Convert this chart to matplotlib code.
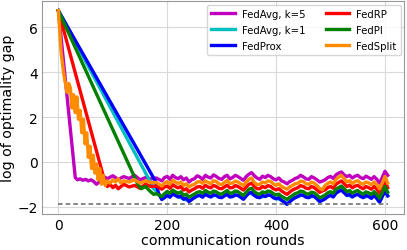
import matplotlib
matplotlib.use("Agg")
import matplotlib.pyplot as plt

# communication rounds of the noisy tail (every 5 rounds), coarse grid for the hidden cyan curve
tail_rounds = list(range(190, 606, 5))
tail_rounds_coarse = list(range(190, 601, 10)) + [605]

# FedAvg, k=5
m_head_x = [0, 31, 35, 40, 45, 50, 55, 60, 65, 70, 75, 80, 85, 90, 100, 110, 120, 130, 140, 150, 160, 170, 180]
m_head_y = [6.75, -0.7, -0.8, -0.76, -0.82, -0.78, -0.85, -0.8, -0.88, -1.0, -0.9, -0.72, -0.68, -0.75,
            -0.62, -0.78, -0.66, -0.74, -0.6, -0.8, -0.7, -0.76, -0.72]
m_tail = [-0.85, -0.7, -0.65, -0.78, -0.6, -0.7, -0.75, -0.66, -0.8, -0.72,
          -0.9, -0.8, -0.75, -0.62, -0.68, -0.78, -0.6, -0.68, -0.72, -0.58,
          -0.65, -0.74, -0.78, -0.66, -0.6, -0.76, -0.7, -0.6, -0.66, -0.74,
          -0.82, -0.66, -0.55, -0.48, -0.62, -0.72, -0.78, -0.64, -0.7, -0.6,
          -0.66, -0.76, -0.8, -0.72, -0.85, -0.9, -0.98, -0.88, -0.82, -0.74,
          -0.7, -0.6, -0.67, -0.76, -0.78, -0.66, -0.72, -0.8, -0.9, -0.86,
          -0.8, -0.7, -0.65, -0.74, -0.58, -0.5, -0.45, -0.58, -0.66, -0.6,
          -0.72, -0.64, -0.6, -0.7, -0.75, -0.64, -0.7, -0.78, -0.66, -0.78,
          -0.95, -0.7, -0.42, -0.6]

# FedAvg, k=1 (its tail sits under FedProx)
c_head_x = [0, 168, 175, 182]
c_head_y = [6.75, -0.85, -1.2, -1.35]
c_tail = [-1.65, -1.48, -1.41, -1.55, -1.65, -1.75, -1.58, -1.48, -1.43, -1.55, -1.48, -1.58, -1.43, -1.53,
          -1.48, -1.65, -1.38, -1.48, -1.58, -1.53, -1.48, -1.63, -1.7, -1.88, -1.66, -1.53, -1.48, -1.58,
          -1.53, -1.75, -1.63, -1.48, -1.38, -1.24, -1.48, -1.55, -1.43, -1.58, -1.53, -1.48, -1.78, -1.28, -1.5]

# FedProx
b_head_x = [0, 178, 184]
b_head_y = [6.75, -0.85, -1.4]
b_tail = [-1.68, -1.6, -1.5, -1.58, -1.43, -1.5, -1.57, -1.52, -1.67, -1.62,
          -1.77, -1.68, -1.6, -1.52, -1.5, -1.58, -1.45, -1.52, -1.57, -1.47,
          -1.5, -1.58, -1.6, -1.52, -1.45, -1.57, -1.55, -1.47, -1.5, -1.58,
          -1.67, -1.52, -1.4, -1.36, -1.5, -1.58, -1.6, -1.5, -1.55, -1.47,
          -1.5, -1.6, -1.65, -1.6, -1.72, -1.8, -1.9, -1.78, -1.68, -1.6,
          -1.55, -1.47, -1.5, -1.58, -1.6, -1.5, -1.55, -1.65, -1.77, -1.72,
          -1.65, -1.55, -1.5, -1.57, -1.4, -1.32, -1.26, -1.38, -1.5, -1.45,
          -1.57, -1.49, -1.45, -1.54, -1.6, -1.5, -1.55, -1.63, -1.5, -1.63,
          -1.8, -1.55, -1.3, -1.52]

# FedRP
r_head_x = [0, 86, 90, 95, 100, 105, 110, 115, 120, 130, 140, 150, 160, 170, 180]
r_head_y = [6.75, -0.95, -1.1, -1.0, -1.15, -1.05, -1.2, -1.1, -1.0, -1.12, -1.05, -1.18, -1.0, -1.1, -1.08]
r_tail = [-1.22, -1.12, -1.08, -1.18, -1.02, -1.1, -1.16, -1.1, -1.26, -1.2,
          -1.34, -1.26, -1.2, -1.12, -1.1, -1.18, -1.05, -1.12, -1.16, -1.05,
          -1.1, -1.18, -1.2, -1.12, -1.04, -1.16, -1.15, -1.06, -1.1, -1.18,
          -1.26, -1.12, -1.0, -0.95, -1.1, -1.2, -1.2, -1.1, -1.15, -1.06,
          -1.1, -1.2, -1.25, -1.2, -1.3, -1.38, -1.45, -1.35, -1.26, -1.2,
          -1.15, -1.06, -1.1, -1.18, -1.2, -1.1, -1.15, -1.25, -1.36, -1.3,
          -1.25, -1.15, -1.1, -1.18, -1.0, -0.92, -0.85, -0.98, -1.1, -1.04,
          -1.16, -1.08, -1.05, -1.14, -1.2, -1.1, -1.15, -1.22, -1.1, -1.22,
          -1.4, -1.15, -0.88, -1.15]

# FedPI
g_head_x = [0, 145, 152, 160, 168, 175, 180]
g_head_y = [6.75, -0.95, -1.2, -1.1, -1.3, -1.45, -1.42]
g_tail = [-1.55, -1.42, -1.32, -1.4, -1.26, -1.34, -1.4, -1.34, -1.5, -1.44,
          -1.58, -1.5, -1.44, -1.36, -1.33, -1.4, -1.28, -1.35, -1.4, -1.3,
          -1.34, -1.42, -1.44, -1.36, -1.28, -1.4, -1.38, -1.3, -1.33, -1.42,
          -1.5, -1.36, -1.22, -1.18, -1.33, -1.42, -1.44, -1.34, -1.38, -1.3,
          -1.33, -1.42, -1.48, -1.44, -1.54, -1.6, -1.68, -1.58, -1.5, -1.42,
          -1.38, -1.3, -1.33, -1.42, -1.44, -1.35, -1.38, -1.48, -1.6, -1.55,
          -1.48, -1.38, -1.33, -1.4, -1.22, -1.15, -1.08, -1.2, -1.33, -1.28,
          -1.4, -1.32, -1.28, -1.37, -1.44, -1.34, -1.38, -1.46, -1.33, -1.46,
          -1.62, -1.38, -1.1, -1.35]

# FedSplit
o_head_x = [0, 5, 10, 13, 16, 19, 22, 25, 28, 31, 34, 37, 40, 43, 46, 49, 52, 55, 58, 61,
            64, 67, 70, 73, 76, 79, 82, 86, 90, 95, 100, 105, 110, 115, 120, 130, 140, 150, 160, 170, 180]
o_head_y = [6.75, 4.9, 3.9, 3.5, 3.1, 3.5, 3.3, 2.4, 3.0, 2.2, 2.9, 1.9, 2.3, 1.3, 1.9, 0.8, 1.3, 0.2, 0.7, -0.3,
            0.3, -0.5, -0.1, -0.8, -0.3, -1.0, -0.6, -1.05, -0.85, -0.95, -0.8, -0.9, -0.75, -0.95, -0.85,
            -0.9, -0.8, -0.95, -0.85, -0.92, -0.92]
o_tail = [-1.08, -0.95, -0.88, -1.0, -0.82, -0.9, -0.97, -0.9, -1.05, -0.98,
          -1.12, -1.04, -1.0, -0.9, -0.88, -0.96, -0.85, -0.92, -0.97, -0.84,
          -0.88, -0.98, -1.02, -0.92, -0.83, -0.96, -0.95, -0.86, -0.9, -0.98,
          -1.06, -0.9, -0.78, -0.72, -0.92, -1.02, -1.0, -0.9, -0.94, -0.85,
          -0.88, -0.98, -1.05, -0.98, -1.1, -1.16, -1.22, -1.12, -1.05, -0.98,
          -0.95, -0.86, -0.88, -0.98, -1.0, -0.9, -0.95, -1.05, -1.18, -1.25,
          -1.05, -0.96, -0.9, -0.98, -0.78, -0.68, -0.6, -0.75, -0.9, -0.84,
          -0.96, -0.88, -0.84, -0.95, -1.0, -0.9, -0.94, -1.02, -0.9, -1.02,
          -1.2, -0.95, -0.65, -0.95]

optimum_level = -1.9
optimum_span = [0, 605]

series = [
    ("FedAvg, k=5", "m", m_head_x, m_head_y, tail_rounds, m_tail),
    ("FedAvg, k=1", "c", c_head_x, c_head_y, tail_rounds_coarse, c_tail),
    ("FedProx", "b", b_head_x, b_head_y, tail_rounds, b_tail),
    ("FedRP", "r", r_head_x, r_head_y, tail_rounds, r_tail),
    ("FedPI", "g", g_head_x, g_head_y, tail_rounds, g_tail),
    ("FedSplit", "darkorange", o_head_x, o_head_y, tail_rounds, o_tail),
]

fig = plt.figure(figsize=(4.07, 2.51), dpi=100)
ax = fig.add_axes([0.103, 0.143, 0.890, 0.849])

for label, color, hx, hy, tx, ty in series:
    ax.plot(hx + tx, hy + ty, color=color, lw=2.4, label=label)

ax.plot(optimum_span, [optimum_level, optimum_level], color="0.4", lw=1.1, ls=(0, (3, 2)))

ax.set_xticks([0, 200, 400, 600])
ax.set_yticks([-2, 0, 2, 4, 6])
ax.grid(True, color="0.85", lw=0.8)
ax.set_axisbelow(True)
ax.tick_params(length=0, labelsize=10, pad=3)
for s in ax.spines.values():
    s.set_color("0.6")
ax.set_xlabel("communication rounds", fontsize=10.3, labelpad=0.5)
ax.set_ylabel("log of optimality gap", fontsize=10.3, labelpad=1.5)

ax.legend(loc="upper right", ncol=2, fontsize=7.3, handlelength=2.3, handletextpad=0.7,
          columnspacing=2.0, borderaxespad=0.35, labelspacing=0.6, borderpad=0.4)

fig.savefig("out.png", dpi=100)
